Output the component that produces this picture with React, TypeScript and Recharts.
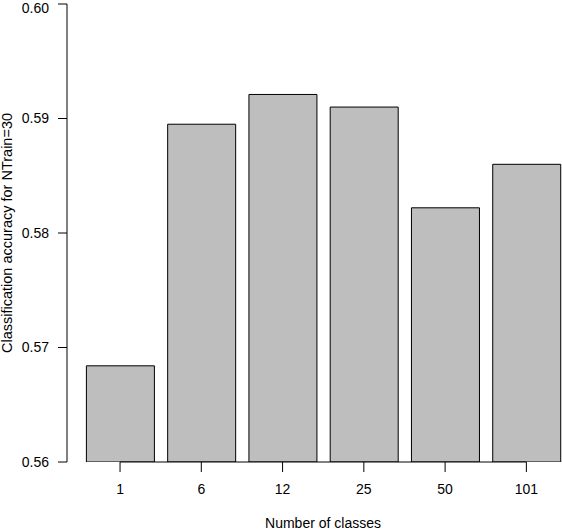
import { BarChart, Bar, XAxis, YAxis, ReferenceLine, Label } from 'recharts';

const classes = ['1', '6', '12', '25', '50', '101'];
const accuracy = [0.5684, 0.5895, 0.5921, 0.591, 0.5822, 0.586];
const yTicks = [0.56, 0.57, 0.58, 0.59, 0.6];

const FONT = '"Liberation Sans", Arial, Helvetica, sans-serif';

export default function App() {
  const data = classes.map((c, i) => ({ name: c, value: accuracy[i] }));

  return (
    <div
      style={{
        position: 'absolute',
        left: 0,
        top: 0,
        width: 562,
        height: 530,
        overflow: 'hidden',
        background: '#fff',
        fontFamily: FONT,
      }}
    >
      <BarChart width={575} height={530} data={data} margin={{ top: 4, right: 8, left: 0, bottom: 0 }}>
        <XAxis
          dataKey="name"
          height={68}
          axisLine={false}
          tickSize={10}
          tickMargin={12}
          tickLine={{ stroke: '#000' }}
          tick={{ fill: '#000', fontSize: 14, fontFamily: FONT }}
          padding={{ left: 12.4, right: 0 }}
          interval={0}
        >
          <Label
            content={() => (
              <text x={323} y={528} textAnchor="middle" fill="#000" fontSize={14} fontFamily={FONT}>
                Number of classes
              </text>
            )}
          />
        </XAxis>
        <YAxis
          width={67}
          domain={[0.56, 0.6]}
          ticks={yTicks}
          allowDataOverflow
          tickFormatter={(v: number) => v.toFixed(2)}
          axisLine={{ stroke: '#000' }}
          tickLine={{ stroke: '#000' }}
          tickSize={9}
          tickMargin={9}
          tick={{ fill: '#000', fontSize: 14, fontFamily: FONT }}
        >
          <Label
            content={() => (
              <text
                transform="translate(12,233) rotate(-90)"
                textAnchor="middle"
                fill="#000"
                fontSize={14.5}
                fontFamily={FONT}
              >
                Classification accuracy for NTrain=30
              </text>
            )}
          />
        </YAxis>
        <Bar dataKey="value" fill="#BEBEBE" stroke="#000" strokeWidth={1} barSize={68} isAnimationActive={false} />
        <ReferenceLine
          segment={[
            { x: classes[0], y: 0.56 },
            { x: classes[classes.length - 1], y: 0.56 },
          ]}
          stroke="#000"
          ifOverflow="visible"
        />
      </BarChart>
    </div>
  );
}
